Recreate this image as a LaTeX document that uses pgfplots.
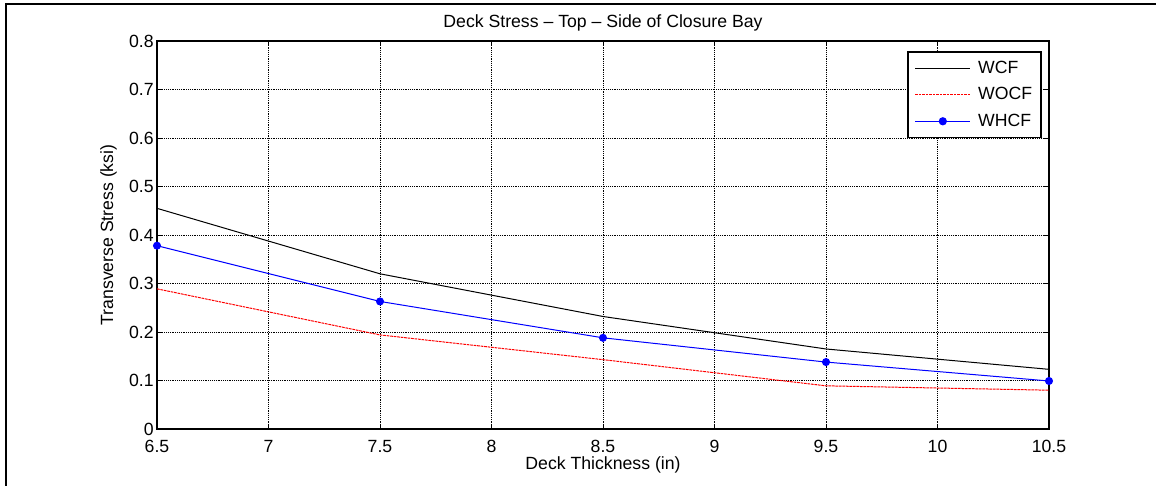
\documentclass[border=0pt]{standalone}
\usepackage{fontspec}
\setmainfont{Liberation Sans}
\usepackage{pgfplots}
\pgfplotsset{compat=1.18}

% 1 px of the reference = 0.6pt
\begin{document}
\begin{tikzpicture}
\useasboundingbox (-94.2pt,-34.2pt) rectangle (599.4pt,257.4pt);
\draw[line width=1.2pt] (-90.3pt,-40pt) -- (-90.3pt,254.7pt) -- (605pt,254.7pt);
\begin{axis}[
    at={(0pt,0pt)}, anchor=south west,
    scale only axis,
    width=535.2pt, height=232.8pt,
    xmin=6.5, xmax=10.5,
    ymin=0, ymax=0.8,
    xtick={6.5,7,7.5,8,8.5,9,9.5,10,10.5},
    ytick={0,0.1,0.2,0.3,0.4,0.5,0.6,0.7,0.8},
    xticklabels={6.5,7,7.5,8,8.5,9,9.5,10,10.5},
    yticklabels={0,0.1,0.2,0.3,0.4,0.5,0.6,0.7,0.8},
    font=\fontsize{10.6}{12.7}\selectfont,
    tick align=inside,
    major tick length=3pt,
    tick style={black, line width=0.6pt},
    axis line style={line width=0.9pt},
    grid=major,
    major grid style={black, line width=0.6pt, dash pattern=on 0.6pt off 0.5pt},
    xticklabel style={anchor=base, yshift=-14.4pt},
    yticklabel style={inner sep=1.8pt},
    title={Deck Stress – Top – Side of Closure Bay},
    title style={anchor=base, at={(axis description cs:0.5,1)}, yshift=2.4pt},
    xlabel={Deck Thickness (in)},
    xlabel style={anchor=base, at={(axis description cs:0.5,0)}, yshift=-24.4pt,
        inner sep=0pt},
    ylabel={Transverse Stress (ksi)},
    ylabel shift=2pt,
    clip=false,
    legend style={at={(rel axis cs:0.992,0.974)}, anchor=north east,
        draw=black, line width=0.9pt, inner xsep=4pt, inner ysep=4pt,
        row sep=4.2pt, font=\fontsize{10.6}{12.7}\selectfont,
        nodes={inner sep=1.4pt}},
    legend cell align=left,
    legend image code/.code={
        \draw[mark repeat=2,mark phase=2,#1,line width=0.7pt]
            plot coordinates {(0pt,0pt) (16.5pt,0pt) (33pt,0pt)};
        \path (36pt,0pt);},
]
\addplot[black, line width=0.6pt] coordinates {
    (6.5, 0.455)
    (7.5, 0.320)
    (8.5, 0.232)
    (9.5, 0.165)
    (10.5, 0.123)
};
\addplot[red, line width=0.6pt, dash pattern=on 1.6pt off 0.5pt] coordinates {
    (6.5, 0.289)
    (7.5, 0.194)
    (8.5, 0.143)
    (9.5, 0.089)
    (10.5, 0.080)
};
\addplot[blue, line width=0.6pt, mark=*, mark size=2.1pt,
    mark options={solid, fill=blue}] coordinates {
    (6.5, 0.378)
    (7.5, 0.263)
    (8.5, 0.188)
    (9.5, 0.138)
    (10.5, 0.099)
};
\legend{WCF,WOCF,WHCF}
\end{axis}
\end{tikzpicture}
\end{document}
